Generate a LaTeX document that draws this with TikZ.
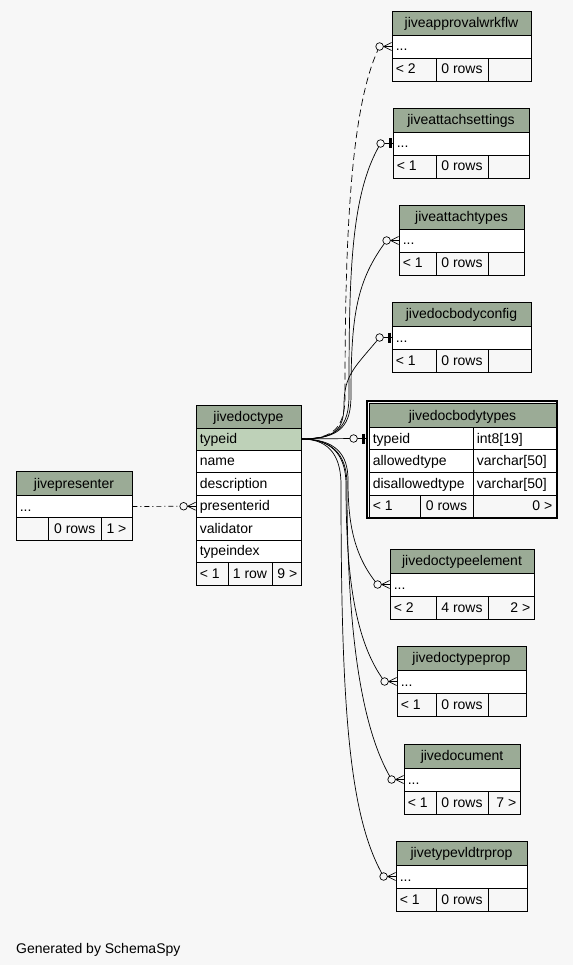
\documentclass[tikz,border=0pt]{standalone}
\usepackage{fontspec}
\setmainfont{Liberation Sans}
\usetikzlibrary{calc,fit,positioning}

\definecolor{pagebg}{HTML}{F7F7F7}
\definecolor{headbg}{HTML}{9BAB96}
\definecolor{keybg}{HTML}{BED1B8}

% one table cell: name, fill, two corners, text anchor, text
\newcommand{\tcell}[6]{%
  \node[cellbox,fill=#2,fit={#3 #4}] (#1) {};
  \node[celltext,anchor=#5] (#1-t) at (#1.#5) {#6};}

% small table with one "..." row: name, x1, y1, x2, title, footer texts
\newcommand{\minitable}[8]{%
  \tcell{#1}{headbg}{(#2,#3)}{(#4,#3+24)}{center}{#5}
  \tcell{#1-row}{white}{(#2,#3+24)}{(#4,#3+47)}{west}{...}
  \tcell{#1-f1}{pagebg}{(#2,#3+47)}{(436,#3+70)}{west}{#6}
  \tcell{#1-f2}{pagebg}{(436,#3+47)}{(488,#3+70)}{center}{#7}
  \tcell{#1-f3}{pagebg}{(488,#3+47)}{(#4,#3+70)}{east}{#8}}

% zero-or-many end: circle and crow's foot
\newcommand{\crowend}[1]{%
  \draw[edge] ([xshift=-8pt]#1) -- (#1);
  \draw[edge] ([xshift=-8pt]#1) -- ([yshift=4pt]#1);
  \draw[edge] ([xshift=-8pt]#1) -- ([yshift=-4pt]#1);
  \draw[edge,fill=pagebg] ([xshift=-12pt]#1) circle (3.8);}

% zero-or-one end: circle and bar
\newcommand{\teeend}[1]{%
  \draw[edge] ([xshift=-8pt]#1) -- (#1);
  \draw[edge,line width=2.4pt] ([xshift=-2pt,yshift=5pt]#1) -- ([xshift=-2pt,yshift=-5pt]#1);
  \draw[edge,fill=pagebg] ([xshift=-12pt]#1) circle (3.8);}

\begin{document}
\begin{tikzpicture}[
    x=1pt,y=-1pt,
    font=\fontsize{14}{16}\selectfont,
    cellbox/.style={draw=black,line width=0.8pt,inner sep=0pt},
    celltext/.style={inner xsep=4pt,inner ysep=0pt,text height=9pt,text depth=0pt},
    edge/.style={black,line width=0.7pt},
    implied/.style={edge,dash pattern=on 7pt off 4pt},
    presented/.style={edge,dash pattern=on 5pt off 3pt on 1pt off 3pt}
  ]
    \useasboundingbox (0,0) rectangle (573,965);
    \fill[pagebg] (0,0) rectangle (573,965);

    % referenced tables on the right
    \minitable{approval}{392}{11}{531}{jiveapprovalwrkflw}{< 2}{0 rows}{}
    \minitable{attachsettings}{393}{108}{529}{jiveattachsettings}{< 1}{0 rows}{}
    \minitable{attachtypes}{399}{205}{524}{jiveattachtypes}{< 1}{0 rows}{}
    \minitable{bodyconfig}{392}{302}{531}{jivedocbodyconfig}{< 1}{0 rows}{}
    \minitable{typeelement}{390}{549}{534}{jivedoctypeelement}{< 2}{4 rows}{2 >}
    \minitable{typeprop}{397}{646}{526}{jivedoctypeprop}{< 1}{0 rows}{}
    \minitable{document}{404}{744}{520}{jivedocument}{< 1}{0 rows}{7 >}
    \minitable{vldtrprop}{396}{841}{527}{jivetypevldtrprop}{< 1}{0 rows}{}

    % jivedocbodytypes, shown with its columns
    \draw[line width=2pt] (367,401) rectangle (557.3,518);
    \tcell{bodytypes}{headbg}{(369,403.5)}{(556,427.5)}{center}{jivedocbodytypes}
    \tcell{bodytypes-typeid}{white}{(369,427.5)}{(473,449.5)}{west}{typeid}
    \tcell{bodytypes-typeid-ty}{white}{(473,427.5)}{(556,449.5)}{west}{int8[19]}
    \tcell{bodytypes-allowed}{white}{(369,449.5)}{(473,472)}{west}{allowedtype}
    \tcell{bodytypes-allowed-ty}{white}{(473,449.5)}{(556,472)}{west}{varchar[50]}
    \tcell{bodytypes-disallowed}{white}{(369,472)}{(473,495.5)}{west}{disallowedtype}
    \tcell{bodytypes-disallowed-ty}{white}{(473,472)}{(556,495.5)}{west}{varchar[50]}
    \tcell{bodytypes-f1}{pagebg}{(369,495.5)}{(420,517)}{west}{< 1}
    \tcell{bodytypes-f2}{pagebg}{(420,495.5)}{(473,517)}{center}{0 rows}
    \tcell{bodytypes-f3}{pagebg}{(473,495.5)}{(556,517)}{east}{0 >}
    \coordinate (bodytypes-port) at ([xshift=-3pt]bodytypes-typeid.west);

    % jivedoctype
    \tcell{doctype}{headbg}{(196,405)}{(301,428)}{center}{jivedoctype}
    \tcell{doctype-typeid}{keybg}{(196,428)}{(301,450)}{west}{typeid}
    \tcell{doctype-name}{white}{(196,450)}{(301,472.5)}{west}{name}
    \tcell{doctype-desc}{white}{(196,472.5)}{(301,495)}{west}{description}
    \tcell{doctype-presenterid}{white}{(196,495)}{(301,517.5)}{west}{presenterid}
    \tcell{doctype-validator}{white}{(196,517.5)}{(301,540)}{west}{validator}
    \tcell{doctype-typeindex}{white}{(196,540)}{(301,562.5)}{west}{typeindex}
    \tcell{doctype-f1}{pagebg}{(196,562.5)}{(228,585)}{west}{< 1}
    \tcell{doctype-f2}{pagebg}{(228,562.5)}{(272,585)}{center}{1 row}
    \tcell{doctype-f3}{pagebg}{(272,562.5)}{(301,585)}{east}{9 >}

    % jivepresenter
    \tcell{presenter}{headbg}{(16,471.5)}{(132,495.5)}{center}{jivepresenter}
    \tcell{presenter-row}{white}{(16,495.5)}{(132,517.5)}{west}{...}
    \tcell{presenter-f1}{pagebg}{(16,517.5)}{(48.5,540.5)}{west}{}
    \tcell{presenter-f2}{pagebg}{(48.5,517.5)}{(101,540.5)}{center}{0 rows}
    \tcell{presenter-f3}{pagebg}{(101,517.5)}{(132,540.5)}{center}{1 >}

    % relationships from jivedoctype.typeid, upwards
    \draw[implied] (doctype-typeid.east) .. controls +(35,0) and +(0,30) .. (345,395)
      .. controls +(0,-150) and +(-30,60) .. ([xshift=-12pt]approval-row.west);
    \draw[edge] (doctype-typeid.east) .. controls +(38,0) and +(0,30) .. (349,395)
      .. controls +(0,-120) and +(-30,50) .. ([xshift=-12pt]attachsettings-row.west);
    \draw[edge] (doctype-typeid.east) .. controls +(40,0) and +(0,30) .. (351,395)
      .. controls +(0,-80) and +(-30,40) .. ([xshift=-12pt]attachtypes-row.west);
    \draw[edge] (doctype-typeid.east) .. controls +(33,0) and +(0,25) .. (344,405)
      .. controls +(0,-30) and +(-25,30) .. ([xshift=-12pt]bodyconfig-row.west);
    \draw[edge] (doctype-typeid.east) -- ([xshift=-12pt]bodytypes-port);
    % and downwards
    \draw[edge] (doctype-typeid.east) .. controls +(35,0) and +(0,-25) .. (348,480)
      .. controls +(0,40) and +(-25,-30) .. ([xshift=-12pt]typeelement-row.west);
    \draw[edge] (doctype-typeid.east) .. controls +(35,0) and +(0,-25) .. (346,485)
      .. controls +(0,90) and +(-30,-40) .. ([xshift=-12pt]typeprop-row.west);
    \draw[edge] (doctype-typeid.east) .. controls +(36,0) and +(0,-25) .. (347,485)
      .. controls +(0,150) and +(-30,-50) .. ([xshift=-12pt]document-row.west);
    \draw[edge] (doctype-typeid.east) .. controls +(31,0) and +(0,-25) .. (341,485)
      .. controls +(0,220) and +(-35,-60) .. ([xshift=-12pt]vldtrprop-row.west);
    \crowend{approval-row.west}
    \teeend{attachsettings-row.west}
    \crowend{attachtypes-row.west}
    \teeend{bodyconfig-row.west}
    \teeend{bodytypes-port}
    \crowend{typeelement-row.west}
    \crowend{typeprop-row.west}
    \crowend{document-row.west}
    \crowend{vldtrprop-row.west}

    % jivepresenter to jivedoctype.presenterid
    \draw[presented] (presenter-row.east) -- ([xshift=-12pt]doctype-presenterid.west);
    \crowend{doctype-presenterid.west}

    \node[anchor=base west,inner sep=0pt] (credit) at (16,953) {Generated by SchemaSpy};
\end{tikzpicture}
\end{document}
